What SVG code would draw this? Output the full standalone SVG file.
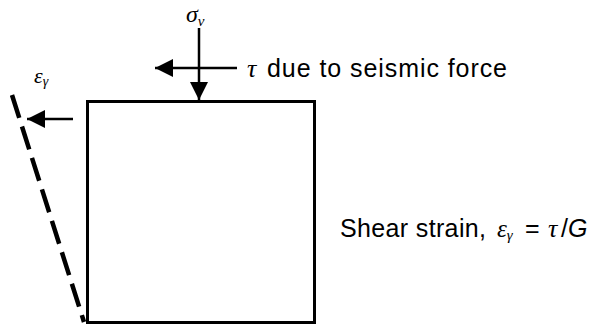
<svg xmlns="http://www.w3.org/2000/svg" width="597" height="326" viewBox="0 0 597 326">
<style>
.t{font-family:"Liberation Sans",Arial,sans-serif;font-size:25px;fill:#000}
.g{font-family:"Liberation Serif","Times New Roman",serif;font-style:italic;fill:#000}
.ln{stroke:#000;fill:none}
</style>
<defs>
<marker id="ahb" viewBox="0 0 10 10" refX="10" refY="5" markerWidth="18" markerHeight="18" markerUnits="userSpaceOnUse" orient="auto">
<path d="M0,0 L10,5 L0,10 Z" fill="#000"/>
</marker>
</defs>
<g id="block">
<rect x="87.5" y="101.5" width="227" height="221" class="ln" stroke-width="3"/>
</g>
<g id="deformed">
<line x1="12" y1="95" x2="84" y2="322" class="ln" stroke-width="4.5" stroke-dasharray="24,9"/>
</g>
<g id="connectors">
<line x1="199" y1="28" x2="199" y2="100" class="ln" stroke-width="2.5" marker-end="url(#ahb)"/>
<line x1="237" y1="68" x2="155" y2="68" class="ln" stroke-width="2.5" marker-end="url(#ahb)"/>
<line x1="73" y1="119" x2="27" y2="119" class="ln" stroke-width="2.5" marker-end="url(#ahb)"/>
</g>
<g id="labels">
<text x="186" y="22" class="g" font-size="24">σ<tspan font-size="15" dy="4">v</tspan></text>
<text x="247" y="77" class="g" font-size="26">τ</text>
<text x="267" y="77" class="t" textLength="240" lengthAdjust="spacing">due to seismic force</text>
<text x="34" y="83" class="g" font-size="22">ε<tspan font-size="14" dy="3">γ</tspan></text>
<text x="340" y="237" class="t" font-size="26" textLength="146" lengthAdjust="spacing">Shear strain,</text>
<text x="497" y="237" class="g" font-size="25">ε<tspan font-size="15" dy="3">γ</tspan></text>
<text x="525" y="237" class="t">=</text>
<text x="548" y="237" class="g" font-size="26">τ</text>
<text x="561" y="237" class="t">/<tspan font-style="italic">G</tspan></text>
</g>
</svg>
